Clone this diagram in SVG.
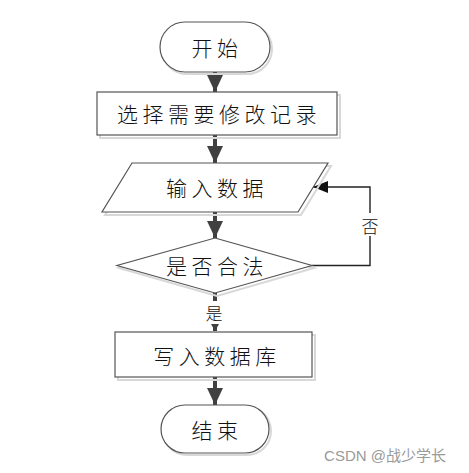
<svg xmlns="http://www.w3.org/2000/svg" width="469" height="473" viewBox="0 0 469 473">
<style>
.shape{fill:#fff;stroke:#555;stroke-width:1.2}
.shadow{fill:none;stroke:#d8d8d8;stroke-width:2}
.lbl{font-family:"Noto Sans CJK SC","Noto Sans",sans-serif;font-size:21px;font-weight:300;fill:#111;text-anchor:middle;dominant-baseline:central;letter-spacing:4.5px}
.small{font-family:"Noto Sans CJK SC","Noto Sans",sans-serif;font-size:17px;font-weight:300;fill:#111;text-anchor:middle;dominant-baseline:central}
.flow{stroke:#404040;stroke-width:4;fill:none}
.thin{stroke:#222;stroke-width:1.4;fill:none}
</style>
<defs>
<marker id="big" markerUnits="userSpaceOnUse" markerWidth="17" markerHeight="16" refX="17" refY="8" orient="auto"><path d="M0,0L17,8L0,16z" fill="#404040"/></marker>
<marker id="mid" markerUnits="userSpaceOnUse" markerWidth="15" markerHeight="12" refX="15" refY="6" orient="auto"><path d="M0,0L15,6L0,12z" fill="#111"/></marker>
<marker id="tiny" markerUnits="userSpaceOnUse" markerWidth="7" markerHeight="8" refX="7" refY="4" orient="auto"><path d="M0,0L7,4L0,8z" fill="#404040"/></marker>
</defs>
<rect width="469" height="473" fill="#fff"/>
<g id="connectors">
<path class="flow" d="M215,72V92" marker-end="url(#big)"/>
<path class="flow" d="M215,135V163" marker-end="url(#big)"/>
<path class="flow" d="M215,212V238" marker-end="url(#big)"/>
<path class="flow" d="M215,293V301"/>
<path class="flow" d="M215,324V331" stroke-width="1" marker-end="url(#tiny)"/>
<path class="flow" d="M215,377V405" marker-end="url(#big)"/>
<path class="thin" d="M312,265.5H370V236"/>
<path class="thin" d="M370,213V187H313" marker-end="url(#mid)"/>
<text class="small" x="370" y="225">否</text>
<text class="small" x="214" y="312">是</text>
</g>
<g id="start">
<rect class="shadow" x="162" y="24" width="110" height="50" rx="25"/>
<rect class="shape" x="160" y="22" width="110" height="50" rx="25"/>
<text class="lbl" x="217" y="47">开始</text>
</g>
<g id="select">
<rect class="shadow" x="100" y="95" width="240" height="43"/>
<rect class="shape" x="97" y="92" width="240" height="43"/>
<text class="lbl" x="219" y="113">选择需要修改记录</text>
</g>
<g id="input">
<polygon class="shadow" points="135,166 331,166 301,215 105,215"/>
<polygon class="shape" points="132,163 328,163 298,212 102,212"/>
<text class="lbl" x="217" y="187">输入数据</text>
</g>
<g id="check">
<polygon class="shadow" points="217,241 314,268 217,296 119,268"/>
<polygon class="shape" points="215,238 312,265.5 215,293 117,265.5"/>
<text class="lbl" x="217" y="265">是否合法</text>
</g>
<g id="write">
<rect class="shadow" x="118" y="335" width="197" height="45"/>
<rect class="shape" x="115" y="332" width="197" height="45"/>
<text class="lbl" x="217" y="355">写入数据库</text>
</g>
<g id="end">
<rect class="shadow" x="163" y="407" width="108" height="48" rx="24"/>
<rect class="shape" x="161" y="405" width="108" height="48" rx="24"/>
<text class="lbl" x="217" y="429">结束</text>
</g>
<text x="385" y="455" font-family="'Liberation Sans','Noto Sans CJK SC',sans-serif" font-size="15" fill="#9a9a9a" text-anchor="middle" dominant-baseline="central">CSDN @战少学长</text>
</svg>
